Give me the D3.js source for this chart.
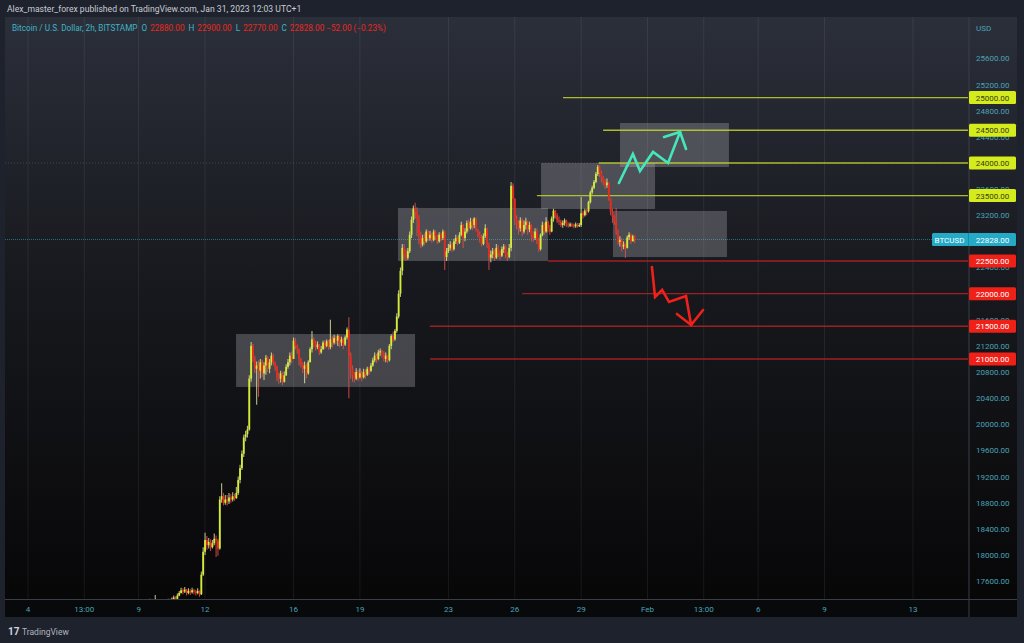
<!DOCTYPE html>
<html><head><meta charset="utf-8">
<script src="https://cdn.jsdelivr.net/npm/d3@7/dist/d3.min.js"></script>
<style>html,body{margin:0;padding:0;background:#1e222d;}svg{display:block;font-family:Roboto,"Noto Sans",sans-serif;}</style>
</head><body><svg id="c" width="1024" height="643"></svg>
<script>
// ---------- DATA ----------
const title = "Alex_master_forex published on TradingView.com, Jan 31, 2023 12:03 UTC+1";
const symbolText = "Bitcoin / U.S. Dollar, 2h, BITSTAMP";
const legendVals = [["O","22880.00"],["H","22900.00"],["L","22770.00"],["C","22828.00 −52.00 (−0.23%)"]];
const candleStart = "2023-01-09T00:00:00Z"; // 2h candles
const firstOpen = 17200;
const close = [
 17180,17210,17230,17200,17250,17280,17300,17260,17240,17300,17280,17250, // Jan 9
 17230,17260,17250,17280,17300,17290,17320,17350,17330,17380,17420,17460, // Jan 10
 17440,17470,17420,17450,17430,17460,17440,17420,17450,17400,17700,18050, // Jan 11
 18230,18150,18200,18120,18180,18250,18220,18100,18850,18900,18800,18850, // Jan 12
 18820,18880,18850,18900,18870,18950,19150,19330,19550,19800,19850,19920, // Jan 13
 20700,21200,21000,20850,20900,20820,20950,20780,20900,21020,20850,20950, // Jan 14
 21050,20950,20880,20720,20700,20780,20650,20750,20880,20950,21050,21000, // Jan 15
 21280,21200,21150,21000,20920,20850,20900,20780,20950,21150,21300,21250, // Jan 16
 21180,21220,21100,21150,21250,21200,21270,21180,21300,21250,21320,21280, // Jan 17
 21350,21250,21300,21220,21330,21450,21050,20850,20750,20700,20800,20720, // Jan 18
 20780,20720,20800,20760,20850,20820,20900,20980,21050,21000,21100,21120, // Jan 19
 21080,21000,21050,20980,21200,21350,21300,21430,21650,22000,22350,22700, // Jan 20
 22600,22550,22650,22900,23130,23300,23250,23150,22900,22750,22850,22800, // Jan 21
 22950,22850,22900,22820,22950,22880,22800,22900,22850,22950,22560,22650, // Jan 22
 22700,22750,22680,22800,22850,22780,22900,23050,22850,22950,23080,23000, // Jan 23
 23100,23050,23150,22980,22900,22850,22760,22880,23000,22750,22550,22600, // Jan 24
 22650,22550,22700,22620,22580,22680,22720,22600,22560,22700,23650,23450, // Jan 25
 23150,23080,23000,23120,22950,23050,23100,22980,23050,22900,22850,22950, // Jan 26
 22800,22680,22900,23050,22950,23100,23000,22950,23150,23270,23200,23120, // Jan 27
 23100,23050,23080,23120,23060,23040,23060,23050,23030,23060,23040,23050, // Jan 28
 23230,23200,23270,23260,23400,23550,23620,23710,23830,23940,23850,23780, // Jan 29
 23720,23660,23700,23450,23250,23180,23100,22950,22790,22820,22720,22750, // Jan 30
 22700,22860,22900,22800,22880,22828                                       // Jan 31
];
const high = [
 17220,17240,17260,17240,17280,17310,17330,17310,17280,17390,17320,17290,
 17270,17290,17290,17310,17330,17330,17350,17380,17370,17410,17450,17500,
 17490,17510,17480,17490,17480,17500,17480,17470,17490,17460,17750,18120,
 18340,18290,18260,18240,18230,18330,18300,18250,18900,19100,18950,18920,
 18920,18950,18930,18960,18940,19040,19200,19380,19600,19840,19900,19980,
 20750,21260,21230,21050,20960,20980,21000,20990,20950,21060,21040,21000,
 21100,21080,20960,20900,20790,20820,20800,20810,20920,21000,21100,21120,
 21330,21320,21220,21160,21020,20950,20960,20930,20980,21180,21430,21330,
 21280,21270,21230,21200,21280,21290,21300,21290,21600,21350,21370,21360,
 21380,21360,21340,21320,21360,21480,21640,21100,20900,20800,20860,20830,
 20860,20820,20850,20840,20880,20880,20940,21020,21100,21080,21140,21160,
 21140,21120,21100,21060,21230,21380,21420,21460,21700,22050,22400,22760,
 22760,22680,22700,22950,23180,23350,23390,23320,23200,22950,22900,22920,
 22980,22970,22960,22930,22980,22970,22900,22940,22930,22980,22960,22700,
 22760,22800,22780,22840,22900,22880,22940,23100,23060,23000,23120,23130,
 23160,23140,23170,23160,22990,22950,22900,22920,23060,23010,22780,22660,
 22700,22680,22760,22740,22660,22720,22760,22740,22640,22760,23710,23690,
 23460,23200,23120,23170,23150,23120,23160,23120,23100,23060,22960,23000,
 23000,22850,22920,23100,23080,23170,23120,23050,23180,23300,23280,23230,
 23180,23130,23120,23150,23130,23090,23090,23080,23070,23090,23080,23080,
 23480,23270,23300,23300,23420,23580,23650,23740,23860,23970,23960,23880,
 23800,23750,23760,23710,23460,23300,23200,23310,22980,22880,22850,22800,
 22770,22890,22940,22920,22900,22895
];
const low = [
 17150,17170,17190,17170,17190,17240,17260,17230,17210,17230,17240,17210,
 17200,17220,17220,17240,17270,17260,17280,17300,17300,17330,17370,17410,
 17400,17420,17380,17400,17390,17410,17400,17380,17400,17360,17390,17680,
 18000,18080,18100,18060,18100,18150,17970,17990,18080,18800,18760,18770,
 18760,18780,18800,18820,18830,18860,18920,19100,19300,19500,19740,19800,
 19900,20650,20950,20780,20300,20420,20700,20720,20680,20760,20800,20780,
 20900,20900,20820,20660,20620,20640,20600,20640,20740,20850,20900,20930,
 21000,21150,21080,20900,20870,20780,20630,20700,20760,20950,21100,21180,
 21130,21150,21060,21080,21140,21150,21180,21140,21150,21180,21220,21230,
 21200,21180,21200,21150,21200,21300,20400,20700,20650,20640,20680,20660,
 20700,20660,20700,20700,20740,20760,20800,20880,20950,20940,20980,21050,
 21020,20960,20950,20940,20960,21150,21260,21280,21400,21620,21950,22280,
 22520,22500,22520,22620,22850,23080,23150,22880,22750,22700,22720,22740,
 22780,22800,22810,22780,22800,22820,22760,22780,22800,22820,22360,22500,
 22620,22660,22640,22660,22760,22740,22760,22880,22700,22800,22920,22950,
 22980,22970,23000,22950,22860,22780,22720,22740,22850,22700,22360,22480,
 22540,22500,22530,22560,22520,22560,22620,22540,22500,22540,22650,23300,
 23050,22980,22900,22950,22880,22920,22980,22900,22940,22800,22790,22820,
 22760,22640,22660,22880,22900,22930,22940,22900,22940,23100,23150,23080,
 23050,23020,23010,23040,23020,23010,23020,23020,23000,23010,23010,23020,
 23020,23150,23180,23200,23240,23380,23520,23600,23690,23800,23780,23700,
 23660,23600,23620,23420,23200,23080,23050,22900,22750,22720,22650,22680,
 22545,22690,22820,22760,22800,22770
];
// price axis ticks
const yTicks = [17600,18000,18400,18800,19200,19600,20000,20400,20800,21200,21600,22000,22400,22800,23200,23600,24000,24400,24800,25200,25600];
// time axis ticks
const xTickDates = ["2023-01-04T00:00Z","2023-01-06T13:00Z","2023-01-09T00:00Z","2023-01-12T00:00Z","2023-01-16T00:00Z","2023-01-19T00:00Z","2023-01-23T00:00Z","2023-01-26T00:00Z","2023-01-29T00:00Z","2023-02-01T00:00Z","2023-02-03T13:00Z","2023-02-06T00:00Z","2023-02-09T00:00Z","2023-02-13T00:00Z"];
const xTickLabels = ["4","13:00","9","12","16","19","23","26","29","Feb","13:00","6","9","13"];
// horizontal levels: [price, start date, kind]
const levels = [
 [25000,"2023-01-28T04:20Z","res"],[24500,"2023-01-29T23:50Z","res"],[24000,"2023-01-29T19:00Z","res"],[23500,"2023-01-27T00:00Z","res"],
 [22500,"2023-01-27T12:00Z","sup"],[22000,"2023-01-26T08:00Z","sup"],[21500,"2023-01-22T04:00Z","sup"],[21000,"2023-01-22T04:00Z","sup"]
];
const lastPrice = 22828;
// zones: [start, end, topPrice, bottomPrice]
const zones = [
 ["2023-01-13T09:40Z","2023-01-21T11:50Z",21382,20572],
 ["2023-01-20T17:20Z","2023-01-27T12:00Z",23311,22500],
 ["2023-01-27T04:30Z","2023-02-01T08:10Z",24000,23295],
 ["2023-01-30T10:30Z","2023-02-04T14:10Z",23265,22560],
 ["2023-01-30T18:10Z","2023-02-04T16:20Z",24611,23938]
];
// arrows: [dayOffsetFromJan4, price]
const upArrow = [[26.71,23693],[27.34,24137],[27.66,23877],[28.25,24168],[28.93,23999],[29.47,24474]];
const upHead = [[28.75,24397],[29.47,24474],[29.74,24213]];
const downArrow = [[28.20,22408],[28.34,21949],[28.66,22056],[28.97,21872],[29.74,21964],[29.97,21520]];
const downHead = [[29.33,21689],[29.97,21520],[30.51,21750]];

// ---------- LAYOUT ----------
const svg = d3.select("#c");
const PL=5, PR=968, PT=17, PB=599, AXR=1017, FOOT=617;
const x = d3.scaleUtc().domain([new Date("2023-01-02T23:00:00Z"), new Date("2023-02-15T11:40:00Z")]).range([PL, PR]);
const y = d3.scaleLinear().domain([17358, 26233]).range([597, PT]);
const jan4 = new Date("2023-01-04T00:00:00Z");
const dOff = d => d3.utcMinute.offset(jan4, Math.round(d*1440));

const defs = svg.append("defs");
const g = defs.append("linearGradient").attr("id","bg").attr("x1",0).attr("y1",0).attr("x2",0).attr("y2",1);
g.append("stop").attr("offset","0").attr("stop-color","#2b2f3a");
g.append("stop").attr("offset","0.45").attr("stop-color","#18191e");
g.append("stop").attr("offset","1").attr("stop-color","#070708");
defs.append("clipPath").attr("id","clip").append("rect").attr("x",PL).attr("y",PT).attr("width",PR-PL).attr("height",PB-PT);

svg.append("rect").attr("width",1024).attr("height",643).attr("fill","#1e222d");
svg.append("rect").attr("x",PL).attr("y",PT).attr("width",AXR-PL).attr("height",PB-PT).attr("fill","url(#bg)");
svg.append("rect").attr("x",PL).attr("y",PB).attr("width",AXR-PL).attr("height",FOOT-PB).attr("fill","#08090b");

// vertical grid
const xTicks = xTickDates.map(s=>new Date(s));
svg.append("g").selectAll("line").data(xTicks).join("line")
 .attr("x1",d=>x(d)).attr("x2",d=>x(d)).attr("y1",PT).attr("y2",PB)
 .attr("stroke","#ffffff").attr("stroke-opacity",0.07);

// header
svg.append("text").attr("x",7).attr("y",12).attr("fill","#c9ccd3").attr("font-size",8.6).text(title);

const plot = svg.append("g").attr("clip-path","url(#clip)");

// faint 24000 line & last price line
plot.append("line").attr("x1",PL).attr("x2",PR).attr("y1",y(24000)).attr("y2",y(24000))
 .attr("stroke","#7c8aa0").attr("stroke-opacity",0.35).attr("stroke-dasharray","1,2");
plot.append("line").attr("x1",PL).attr("x2",PR).attr("y1",y(lastPrice)).attr("y2",y(lastPrice))
 .attr("stroke","#2ab0c8").attr("stroke-opacity",0.55).attr("stroke-dasharray","1,1");

// zones
plot.append("g").selectAll("rect").data(zones).join("rect")
 .attr("x",d=>x(new Date(d[0]))).attr("width",d=>x(new Date(d[1]))-x(new Date(d[0])))
 .attr("y",d=>y(d[2])).attr("height",d=>y(d[3])-y(d[2]))
 .attr("fill","#b8b9bf").attr("fill-opacity",0.3);

// levels
plot.append("g").selectAll("line").data(levels).join("line")
 .attr("x1",d=>x(new Date(d[1]))).attr("x2",PR).attr("y1",d=>y(d[0])).attr("y2",d=>y(d[0]))
 .attr("stroke",d=>d[2]==="res"?"#c3d62c":"#b82222").attr("stroke-width",1.4).attr("stroke-opacity",0.85);

// candles
const t0 = new Date(candleStart);
const candles = close.map((c,i)=>{
  const o = i===0?firstOpen:close[i-1];
  return {t:d3.utcHour.offset(t0,2*i), o, c, h:Math.max(high[i],o,c), l:Math.min(low[i],o,c)};
});
const cw = x(d3.utcHour.offset(t0,2)) - x(t0);
const UP="#d3ec36", DN="#ea2a1c";
const cg = plot.append("g");
cg.selectAll("line").data(candles).join("line")
 .attr("x1",d=>x(d.t)).attr("x2",d=>x(d.t)).attr("y1",d=>y(d.h)).attr("y2",d=>y(d.l))
 .attr("stroke",d=>d.c>=d.o?"#e6e2a0":"#e0504a").attr("stroke-opacity",0.8).attr("stroke-width",1.1);
cg.selectAll("rect").data(candles).join("rect")
 .attr("x",d=>x(d.t)-cw*0.5).attr("width",cw)
 .attr("y",d=>y(Math.max(d.o,d.c))).attr("height",d=>Math.max(1.2,Math.abs(y(d.o)-y(d.c))))
 .attr("fill",d=>d.c>=d.o?UP:DN);

// arrows
const ln = d3.line().x(d=>x(dOff(d[0]))).y(d=>y(d[1]));
[[upArrow,"#45e6bb"],[upHead,"#45e6bb"],[downArrow,"#f0201a"],[downHead,"#f0201a"]].forEach(([pts,col])=>{
  plot.append("path").attr("d",ln(pts)).attr("fill","none").attr("stroke",col).attr("stroke-width",2.6)
   .attr("stroke-linejoin","miter").attr("stroke-linecap","round");
});

// legend row
const lg = svg.append("text").attr("x",12).attr("y",31).attr("font-size",8.2);
lg.append("tspan").attr("fill","#3fb4c6").text(symbolText);
legendVals.forEach(([k,v])=>{
  lg.append("tspan").attr("fill","#3fb4c6").attr("dx",4).text(k);
  lg.append("tspan").attr("fill","#e8281f").attr("dx",3).text(v);
});

// axes frame
svg.append("line").attr("x1",PR+1).attr("x2",PR+1).attr("y1",PT).attr("y2",FOOT).attr("stroke","#3a3e48").attr("stroke-width",1);
svg.append("line").attr("x1",PL).attr("x2",AXR).attr("y1",PB+0.5).attr("y2",PB+0.5).attr("stroke","#3a3e48").attr("stroke-width",1);

// y axis labels
svg.append("g").selectAll("text").data(yTicks).join("text")
 .attr("x",976).attr("y",d=>y(d)+3).attr("font-size",8).attr("fill","#4aa3b6").text(d=>d3.format(".2f")(d));
svg.append("text").attr("x",976).attr("y",31).attr("font-size",8).attr("fill","#4aa3b6").text("USD");

// x axis labels
svg.append("g").selectAll("text").data(xTicks).join("text")
 .attr("x",d=>x(d)).attr("y",612).attr("text-anchor","middle").attr("font-size",8).attr("fill","#4aa3b6")
 .text((d,i)=>xTickLabels[i]);

// level price tags
const tags = svg.append("g");
levels.forEach(([p,,k])=>{
  tags.append("rect").attr("x",969).attr("y",y(p)-6.5).attr("width",47).attr("height",13).attr("rx",1.5)
   .attr("fill",k==="res"?"#d4ec1c":"#ee2018");
  tags.append("text").attr("x",992.5).attr("y",y(p)+3).attr("text-anchor","middle").attr("font-size",8)
   .attr("fill",k==="res"?"#3a3a1a":"#ffffff").text(d3.format(".2f")(p));
});
tags.append("rect").attr("x",932).attr("y",y(lastPrice)-6.5).attr("width",84).attr("height",13).attr("rx",1.5).attr("fill","#24aac6");
tags.append("text").attr("x",934.5).attr("y",y(lastPrice)+3).attr("font-size",8).attr("fill","#ffffff").text("BTCUSD");
tags.append("line").attr("x1",968.5).attr("x2",968.5).attr("y1",y(lastPrice)-6.5).attr("y2",y(lastPrice)+6.5).attr("stroke","#1b8aa3");
tags.append("text").attr("x",992.5).attr("y",y(lastPrice)+3).attr("text-anchor","middle").attr("font-size",8).attr("fill","#ffffff").text(d3.format(".2f")(lastPrice));

// footer logo
const logo = svg.append("g").attr("transform","translate(8,626)");
logo.append("text").attr("x",0).attr("y",9).attr("font-size",10).attr("font-weight","bold").attr("fill","#d1d4dc").text("17");
logo.append("text").attr("x",14).attr("y",9).attr("font-size",8.5).attr("fill","#b2b5be").text("TradingView");
</script></body></html>
